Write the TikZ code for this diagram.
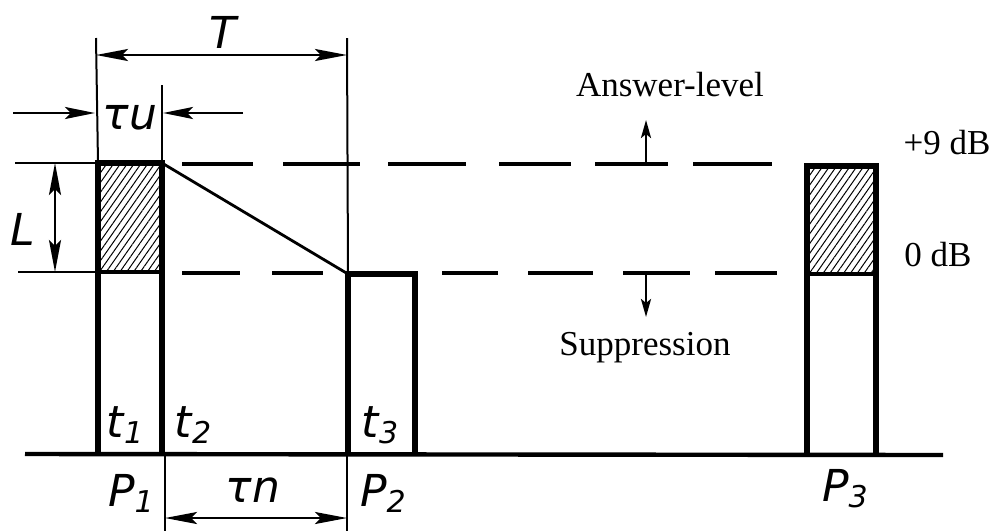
\documentclass[tikz,border=0pt]{standalone}
\usepackage{fontspec}
\setmainfont{Liberation Serif}
\newfontfamily\handfont{DejaVu Sans}
\usetikzlibrary{arrows.meta,patterns.meta}
\newcommand{\sbs}[1]{{\fontsize{15}{15}\selectfont\raisebox{-3pt}{#1}}}
\begin{document}
\begin{tikzpicture}[x=0.5pt,y=-0.5pt,
  thinln/.style={line width=1pt},
  pulse/.style={line width=2.8pt},
  baseln/.style={line width=2.2pt},
  lvl/.style={line width=1.8pt},
  slope/.style={line width=1.4pt},
  dimboth/.style={line width=1.3pt,{Stealth[length=16pt,width=6pt,inset=3pt]}-{Stealth[length=16pt,width=6pt,inset=3pt]}},
  dimone/.style={line width=1.3pt,-{Stealth[length=15pt,width=6pt,inset=3pt]}},
  small/.style={line width=1.3pt,-{Stealth[length=9pt,width=5pt,inset=2pt]}},
  hatch/.style={pattern={Lines[angle=55,distance=2.8pt,line width=0.5pt]}},
  hand/.style={font=\handfont\itshape\fontsize{22}{22}\selectfont,inner sep=0pt},
  txt/.style={font=\fontsize{17.5}{18}\selectfont,inner sep=0pt}]
\useasboundingbox (0,0) rectangle (994,531);

% key coordinates
\coordinate (p1bl) at (98,454);  \coordinate (p1tl) at (98,163);
\coordinate (p1tr) at (162,163); \coordinate (p1br) at (162,454);
\coordinate (p1ml) at (98,272);  \coordinate (p1mr) at (162,272);
\coordinate (p2bl) at (348,454); \coordinate (p2tl) at (348,274);
\coordinate (p2tr) at (415,274); \coordinate (p2br) at (415,454);
\coordinate (p3bl) at (807,454); \coordinate (p3tl) at (807,166);
\coordinate (p3tr) at (876,166); \coordinate (p3br) at (876,454);
\coordinate (p3ml) at (807,274); \coordinate (p3mr) at (876,274);
\coordinate (b0) at (25,454);    \coordinate (b1) at (943,455);

% hatching
\fill[hatch] (p1tl) rectangle (p1mr);
\fill[hatch] (p3tl) rectangle (p3mr);

% baseline
\draw[baseln] (b0) -- (b1);

% level lines on the left
\coordinate (topL) at (15,163);  \coordinate (botL) at (18,272);
\draw[thinln] (topL) -- (p1tl);
\draw[thinln] (botL) -- (p1ml);

% dashed levels
\foreach \a/\b in {182/253,283/360,388/466,499/571,595/668,693/772}
  \draw[lvl] (\a,164) -- (\b,164);
\foreach \a/\b in {182/240,272/323,442/498,528/593,623/690,715/777}
  \draw[lvl] (\a,273) -- (\b,273);

% pulses
\draw[pulse] (p1bl) -- (p1tl) -- (p1tr) -- (p1br);
\draw[lvl] (p1ml) -- (p1mr);
\draw[pulse] (p2bl) -- (p2tl) -- (p2tr) -- (p2br);
\draw[pulse] (p3bl) -- (p3tl) -- (p3tr) -- (p3br);
\draw[lvl] (p3ml) -- (p3mr);

% decay slope
\draw[slope] (p1tr) -- (p2tl);

% extension lines
\coordinate (eT1) at (96,38);   \coordinate (eT2) at (347,38);
\coordinate (eU) at (162,85);
\coordinate (eN1) at (165,454); \coordinate (eN1b) at (165,531);
\coordinate (eN2) at (347,454); \coordinate (eN2b) at (347,531);
\draw[thinln] (eT1) -- (p1tl);
\draw[thinln] (eT2) -- (p2tl);
\draw[thinln] (eU) -- (p1tr);
\draw[thinln] (eN1) -- (eN1b);
\draw[thinln] (eN2) -- (eN2b);

% T dimension
\coordinate (Ta) at (96,55); \coordinate (Tb) at (347,55);
\draw[dimboth] (Ta) -- (Tb);
\node[hand] (Tlab) at (223,32) {T};

% tau_u dimension
\coordinate (ua) at (13,113);  \coordinate (ub) at (95,113);
\coordinate (uc) at (243,113); \coordinate (ud) at (163,113);
\draw[dimone] (ua) -- (ub);
\draw[dimone] (uc) -- (ud);
\node[hand] (taulab) at (130,118) {τu};

% L dimension
\coordinate (La) at (55,163); \coordinate (Lb) at (55,272);
\draw[dimboth] (La) -- (Lb);
\node[hand] (Llab) at (23,229) {L};

% Tn dimension
\coordinate (Na) at (165,518); \coordinate (Nb) at (347,518);
\draw[dimboth] (Na) -- (Nb);
\node[hand] (Nlab) at (253,490) {τn};

% time labels
\node[hand] (t1) at (125,425) {t\sbs{1}};
\node[hand] (t2) at (193,425) {t\sbs{2}};
\node[hand] (t3) at (380,425) {t\sbs{3}};

% pulse labels
\node[hand] (P1) at (131,493) {P\sbs{1}};
\node[hand] (P2) at (383,493) {P\sbs{2}};
\node[hand] (P3) at (845,489) {P\sbs{3}};

% answer level / suppression
\coordinate (upa) at (646,164); \coordinate (upb) at (646,120);
\coordinate (dna) at (646,273); \coordinate (dnb) at (646,317);
\draw[small] (upa) -- (upb);
\draw[small] (dna) -- (dnb);
\node[txt] (ans) at (670,85) {Answer-level};
\node[txt] (sup) at (645,348) {Suppression};
\node[txt] (db9) at (947,143) {+9 dB};
\node[txt] (db0) at (938,255) {0 dB};
\end{tikzpicture}
\end{document}
